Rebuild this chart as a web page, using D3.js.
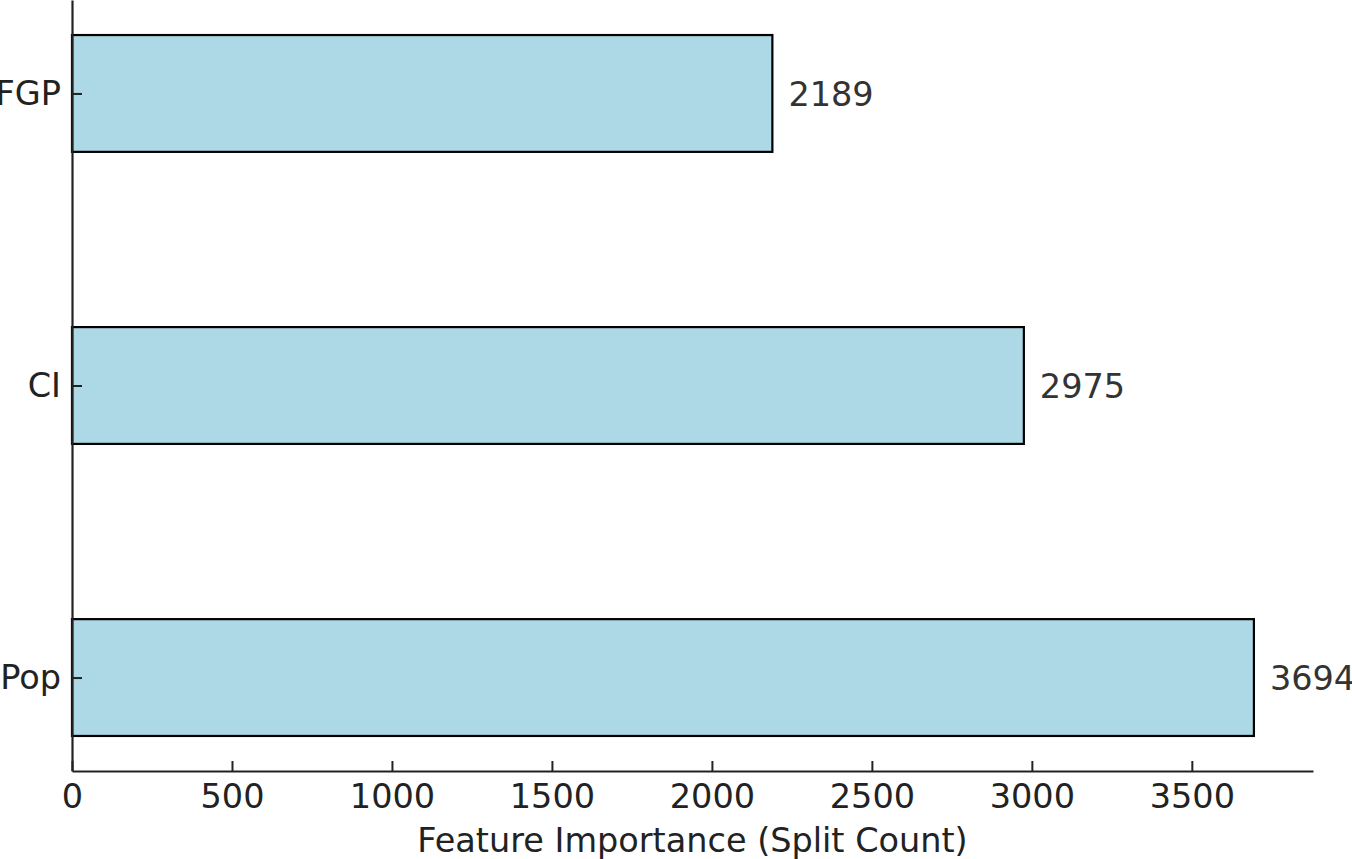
<!DOCTYPE html>
<html><head><meta charset="utf-8">
<script src="https://cdn.jsdelivr.net/npm/d3@7"></script>
<style>html,body{margin:0;padding:0;background:#fff;}svg{display:block;}</style>
</head><body>
<svg id="c" width="1352" height="859"></svg>
<script>
const categories = ["Pop", "CI", "FGP"];
const values = [3694, 2975, 2189];
const xTicks = [0, 500, 1000, 1500, 2000, 2500, 3000, 3500];
const xLabel = "Feature Importance (Split Count)";

(function () {
const svg = d3.select("#c");
const mLeft = 72, mRight = 1313, mTop = 0, mBottom = 771;
const font = "DejaVu Sans, sans-serif";
const fs = 33.5;

const x = d3.scaleLinear().domain([0, 3694 * 1.05]).range([mLeft, mRight]);
const y = d3.scaleLinear().domain([-0.32, 2.32]).range([mBottom, mTop]);
const bh = 0.4;

const g = svg.append("g");
g.selectAll("rect.bar").data(values).enter().append("rect")
  .attr("class", "bar")
  .attr("x", x(0))
  .attr("y", (d, i) => y(i + bh / 2))
  .attr("width", d => x(d) - x(0))
  .attr("height", (d, i) => y(i - bh / 2) - y(i + bh / 2))
  .attr("fill", "#ADD8E6")
  .attr("stroke", "#000")
  .attr("stroke-width", 2.2);

g.selectAll("text.val").data(values).enter().append("text")
  .attr("x", d => x(d) + 16)
  .attr("y", (d, i) => y(i))
  .attr("dy", "0.36em")
  .attr("font-family", font).attr("font-size", fs)
  .attr("fill", "#333")
  .text(d => d);

const xa = svg.append("g").attr("transform", `translate(0,${mBottom})`)
  .call(d3.axisBottom(x).tickValues(xTicks).tickSizeInner(-10).tickSizeOuter(0).tickPadding(13).tickFormat(d3.format("d")));
xa.select(".domain").attr("stroke", "#222").attr("stroke-width", 2.2);
xa.selectAll(".tick line").attr("stroke", "#222").attr("stroke-width", 2);
xa.selectAll(".tick text").attr("font-family", font).attr("font-size", fs).attr("fill", "#222");

const ya = svg.append("g").attr("transform", `translate(${mLeft},0)`)
  .call(d3.axisLeft(y).tickValues([0, 1, 2]).tickSizeInner(-10).tickSizeOuter(0).tickPadding(11).tickFormat(i => categories[i]));
ya.select(".domain").attr("stroke", "#222").attr("stroke-width", 2.2);
ya.selectAll(".tick line").attr("stroke", "#222").attr("stroke-width", 2);
ya.selectAll(".tick text").attr("font-family", font).attr("font-size", fs).attr("fill", "#222");

svg.append("text")
  .attr("x", (mLeft + mRight) / 2).attr("y", 852)
  .attr("text-anchor", "middle")
  .attr("font-family", font).attr("font-size", fs).attr("fill", "#222")
  .text(xLabel);
})();
</script>
</body></html>
